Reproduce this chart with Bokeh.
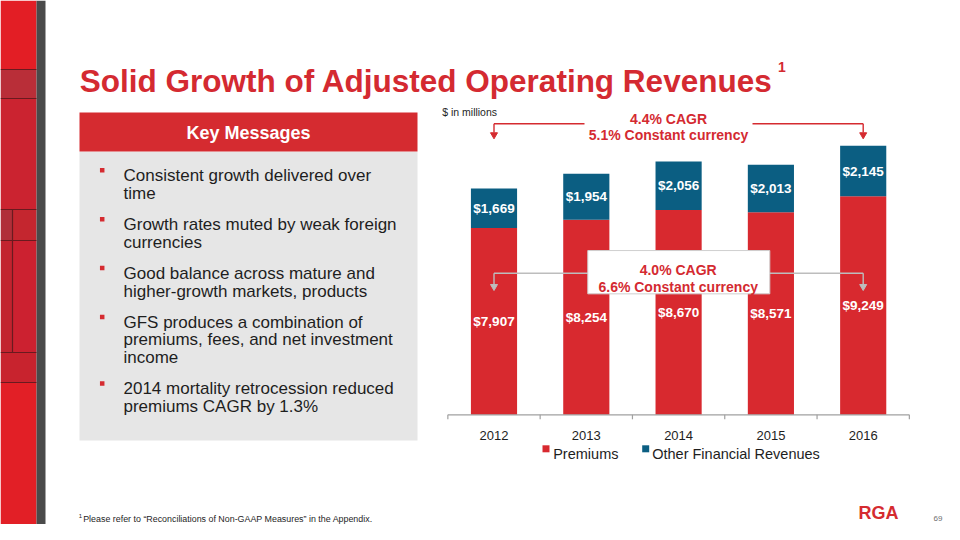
import math
from bokeh.plotting import figure
from bokeh.models import Range1d, ColumnDataSource
from bokeh.embed import file_html
from bokeh.resources import INLINE
from bokeh.core.properties import value

# ---------------- data ----------------
years = ["2012", "2013", "2014", "2015", "2016"]
premiums = [7907, 8254, 8670, 8571, 9249]
other_revenues = [1669, 1954, 2056, 2013, 2145]
series_names = ["Premiums", "Other Financial Revenues"]

title_text = "Solid Growth of Adjusted Operating Revenues"
title_sup = "1"
units_note = "$ in millions"
total_cagr = ["4.4% CAGR", "5.1% Constant currency"]
premium_cagr = ["4.0% CAGR", "6.6% Constant currency"]
box_title = "Key Messages"
key_messages = [
    ["Consistent growth delivered over", "time"],
    ["Growth rates muted by weak foreign", "currencies"],
    ["Good balance across mature and", "higher-growth markets, products"],
    ["GFS produces a combination of", "premiums, fees, and net investment", "income"],
    ["2014 mortality retrocession reduced", "premiums CAGR by 1.3%"],
]
footnote_mark = "1"
footnote = "Please refer to \u201cReconciliations of Non-GAAP Measures\u201d in the Appendix."
logo_text = "RGA"
page_number = "69"

# ---------------- styles ----------------
FONT = "Liberation Sans"
TITLE_RED = "#D42A31"
BAR_RED = "#D8292F"
BAR_BLUE = "#0B5E82"
HEADER_RED = "#D52B30"
BOX_GRAY = "#E6E6E6"
TEXT_DARK = "#1E1E1E"
AXIS_GRAY = "#A0A0A0"
BRACKET_GRAY = "#BDBDBD"

W, H = 944, 524
O = 0  # figure coordinates are picture pixel coordinates

p = figure(width=W, height=H, output_backend="svg", toolbar_location=None,
           x_range=Range1d(O, O + W), y_range=Range1d(O + H, O),
           x_axis_type=None, y_axis_type=None, min_border=0)
p.outline_line_color = None
p.background_fill_color = "white"
p.border_fill_color = "white"

# chart scales mapped onto the picture
CAT_X0 = 493.5        # x of first category centre
CAT_PITCH = 92.3      # pixels per category
BASE_Y = 414.3        # y of value 0
PX_PER_UNIT = 0.02362 # pixels per $ million
p.extra_x_ranges = {"cat": Range1d((O - CAT_X0) / CAT_PITCH, (O + W - CAT_X0) / CAT_PITCH)}
p.extra_y_ranges = {"val": Range1d((BASE_Y - (O + H)) / PX_PER_UNIT, (BASE_Y - O) / PX_PER_UNIT)}

# ---------------- left decorative stripe ----------------
stripe = [
    (0, 36, 0, 69, "#E31E25"),
    (0, 36, 69, 98, "#B92E38"),
    (0, 36, 98, 209, "#CB2330"),
    (0, 12, 209, 240, "#B02F39"),
    (12, 36, 209, 240, "#C4262F"),
    (0, 12, 240, 352, "#C2232F"),
    (12, 36, 240, 352, "#CC2130"),
    (0, 36, 352, 382, "#C8232E"),
    (0, 36, 382, 540, "#E21F26"),
    (36, 45, 0, 540, "#4A4A4A"),
]
p.quad(left=[s[0] for s in stripe], right=[s[1] for s in stripe],
       top=[s[2] for s in stripe], bottom=[s[3] for s in stripe],
       fill_color=[s[4] for s in stripe], line_color=None)
p.segment(x0=[0, 0, 0, 0, 0, 0, 12], x1=[36, 36, 36, 36, 36, 36, 12],
          y0=[69, 98, 209, 240, 352, 382, 209], y1=[69, 98, 209, 240, 352, 382, 352],
          line_color="#6A1A1F", line_width=1.2)

# ---------------- title ----------------
p.text(x=[79.3], y=[80], text=[title_text], text_font=value(FONT), text_font_style="bold",
       text_font_size="31.5px", text_color=TITLE_RED, text_align="left", text_baseline="alphabetic")
p.text(x=[777.5], y=[66], text=[title_sup], text_font=value(FONT), text_font_style="bold",
       text_font_size="14px", text_color=TITLE_RED, text_align="left", text_baseline="alphabetic")

# ---------------- key messages box ----------------
p.quad(left=[79], right=[417], top=[151], bottom=[440], fill_color=BOX_GRAY, line_color=None)
p.quad(left=[79], right=[417], top=[112], bottom=[151], fill_color=HEADER_RED, line_color=None)
p.text(x=[248], y=[132], text=[box_title], text_font=value(FONT), text_font_style="bold",
       text_font_size="18px", text_color="white", text_align="center", text_baseline="middle")

LINE_PITCH = 17.7
PARA_PITCH = 31.2
lx, ly, ltxt, bx, by = [], [], [], [], []
y = 175.0
for para in key_messages:
    bx.append(101.7)
    by.append(y - 5.2)
    for i, line in enumerate(para):
        lx.append(123)
        ly.append(y)
        ltxt.append(line)
        if i < len(para) - 1:
            y += LINE_PITCH
    y += PARA_PITCH
p.rect(x=bx, y=by, width=4.5, height=4.5, fill_color=HEADER_RED, line_color=None)
p.text(x=lx, y=ly, text=ltxt, text_font=value(FONT), text_font_size="17px",
       text_color=TEXT_DARK, text_align="left", text_baseline="alphabetic")

# ---------------- chart ----------------
idx = list(range(len(years)))
src = ColumnDataSource(dict(
    idx=idx,
    premiums=premiums,
    other=other_revenues,
    prem_mid=[v / 2 for v in premiums],
    oth_mid=[a + b / 2 for a, b in zip(premiums, other_revenues)],
    prem_lbl=["${:,}".format(v) for v in premiums],
    oth_lbl=["${:,}".format(v) for v in other_revenues],
    year=years,
    zero=[0] * len(years),
))
p.vbar_stack(["premiums", "other"], x="idx", width=0.5, source=src,
             fill_color=[BAR_RED, BAR_BLUE], line_color=None,
             x_range_name="cat", y_range_name="val")

lbl_kw = dict(source=src, x_range_name="cat", y_range_name="val", text_color="white",
              text_font=value(FONT), text_font_style="bold", text_font_size="13.5px",
              text_align="center", text_baseline="middle")
p.text(x="idx", y="prem_mid", text="prem_lbl", **lbl_kw)
p.text(x="idx", y="oth_mid", text="oth_lbl", **lbl_kw)

# axis line + ticks at category boundaries
n = len(years)
bounds = [i - 0.5 for i in range(n + 1)]
p.segment(x0=[-0.5], x1=[n - 0.5], y0=[0], y1=[0], line_color=AXIS_GRAY, line_width=1.2,
          x_range_name="cat", y_range_name="val")
TICK_PX = 4.5
p.segment(x0=bounds, x1=bounds, y0=[0] * len(bounds), y1=[-TICK_PX / PX_PER_UNIT] * len(bounds),
          line_color=AXIS_GRAY, line_width=1.2, x_range_name="cat", y_range_name="val")
p.text(x="idx", y="zero", text="year", source=src, x_range_name="cat", y_range_name="val",
       y_offset=20.7, text_font=value(FONT), text_font_size="13px", text_color=TEXT_DARK,
       text_align="center", text_baseline="alphabetic")

# legend (manual)
p.rect(x=[545.5, 645.2], y=[448.3, 448.3], width=7, height=7,
       fill_color=[BAR_RED, BAR_BLUE], line_color=None)
p.text(x=[552.7, 651.7], y=[453.3, 453.3], text=series_names, text_font=value(FONT),
       text_font_size="14.5px", text_color=TEXT_DARK, text_align="left", text_baseline="alphabetic")

# units note
p.text(x=[441.7], y=[111.7], text=[units_note], text_font=value(FONT), text_font_size="10.5px",
       text_color=TEXT_DARK, text_align="left", text_baseline="alphabetic")

# total CAGR bracket (red)
p.segment(x0=[0], x1=[n - 1], y0=[123.3], y1=[123.3], line_color=HEADER_RED, line_width=1.4,
          x_range_name="cat")
p.segment(x0=[0, n - 1], x1=[0, n - 1], y0=[123.3, 123.3], y1=[132, 132],
          line_color=HEADER_RED, line_width=1.4, x_range_name="cat")
p.scatter(x=[0, n - 1], y=[134.3, 134.3], marker="triangle", size=7, angle=math.pi,
          fill_color=HEADER_RED, line_color=HEADER_RED, x_range_name="cat")
p.rect(x=[668], y=[125], width=[168], height=[28], fill_color="white", line_color=None)
p.text(x=[668, 668], y=[118.3, 134.3], text=total_cagr, text_font=value(FONT), text_font_style="bold",
       text_font_size="14px", text_color=TITLE_RED, text_align="center", text_baseline="alphabetic")

# premiums CAGR bracket (gray)
p.segment(x0=[0], x1=[n - 1], y0=[272.7], y1=[272.7], line_color=BRACKET_GRAY, line_width=1.4,
          x_range_name="cat")
p.segment(x0=[0, n - 1], x1=[0, n - 1], y0=[272.7, 272.7], y1=[284, 284],
          line_color=BRACKET_GRAY, line_width=1.4, x_range_name="cat")
p.scatter(x=[0, n - 1], y=[286, 286], marker="triangle", size=7, angle=math.pi,
          fill_color=BRACKET_GRAY, line_color=BRACKET_GRAY, x_range_name="cat")
p.rect(x=[678.3], y=[271.7], width=[182], height=[43.3], fill_color="white",
       line_color="#CFCFCF", line_width=1)
p.text(x=[677.7, 677.7], y=[269.3, 286], text=premium_cagr, text_font=value(FONT), text_font_style="bold",
       text_font_size="14px", text_color=TITLE_RED, text_align="center", text_baseline="alphabetic")

# ---------------- footer (kept inside the figure's 524px height) ----------------
p.text(x=[78.3], y=[515.5], text=[footnote_mark], text_font=value(FONT), text_font_size="6px",
       text_color=TEXT_DARK, text_align="left", text_baseline="alphabetic")
p.text(x=[82.7], y=[518.3], text=[footnote], text_font=value(FONT), text_font_size="8.9px",
       text_color=TEXT_DARK, text_align="left", text_baseline="alphabetic")
p.text(x=[858], y=[512], text=[logo_text], text_font=value(FONT), text_font_style="bold",
       text_font_size="18px", text_color=HEADER_RED, text_align="left", text_baseline="alphabetic")
p.text(x=[933], y=[518], text=[page_number], text_font=value(FONT), text_font_size="8px",
       text_color="#6E6E6E", text_align="left", text_baseline="alphabetic")

open("out.html", "w").write(file_html(p, INLINE))
